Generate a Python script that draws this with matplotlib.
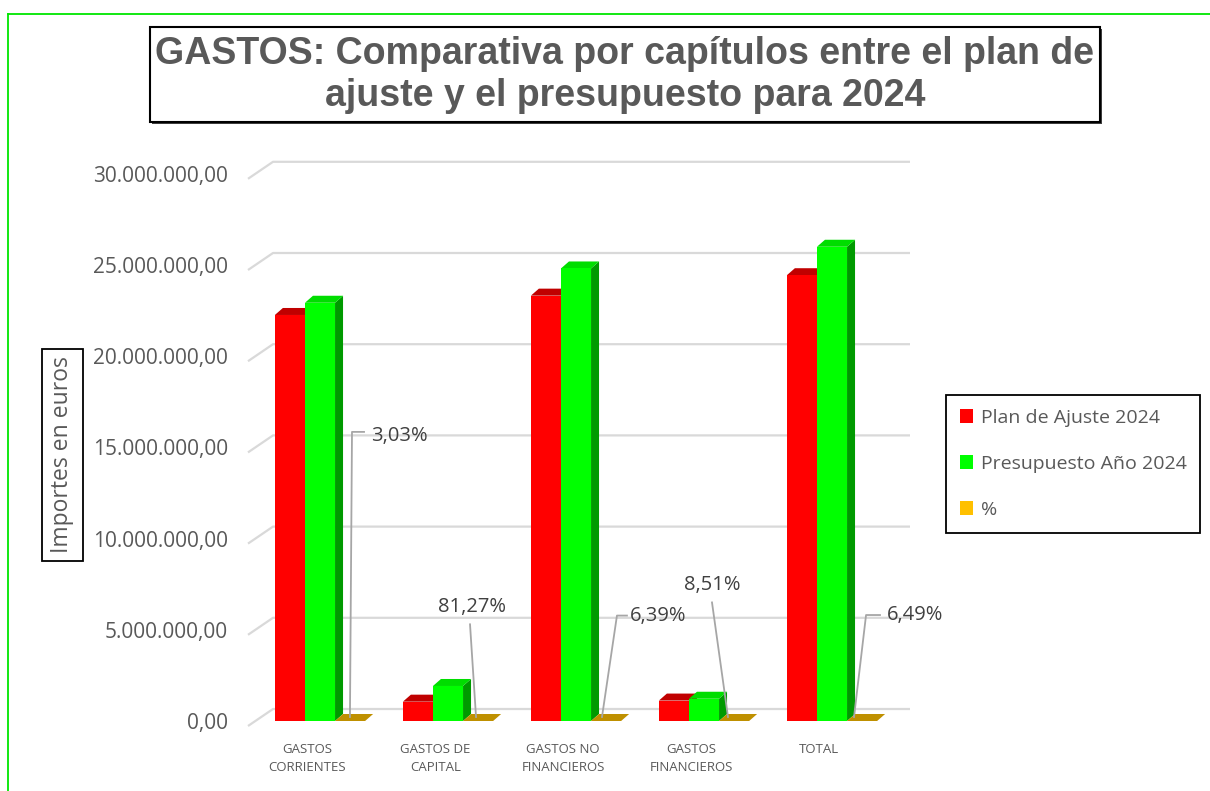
import numpy as np
import matplotlib
matplotlib.use("Agg")
import matplotlib.pyplot as plt
from matplotlib.patches import Patch, Polygon, Rectangle
from matplotlib.lines import Line2D
from matplotlib.transforms import ScaledTranslation

# data
categorias = ["GASTOS\nCORRIENTES", "GASTOS DE\nCAPITAL", "GASTOS NO\nFINANCIEROS",
              "GASTOS\nFINANCIEROS", "TOTAL"]
plan_ajuste = [22.26e6, 1.06e6, 23.32e6, 1.12e6, 24.44e6]
presupuesto = [22.93e6, 1.92e6, 24.81e6, 1.22e6, 26.00e6]
porcentaje = [3.03, 81.27, 6.39, 8.51, 6.49]
series = ["Plan de Ajuste 2024", "Presupuesto Año 2024", "%"]
yticks = [0, 5e6, 10e6, 15e6, 20e6, 25e6, 30e6]

GREY = "#595959"
FONT = "Open Sans"

# pixel geometry helpers (figure is 1210x791 at dpi 100)
PX_X = 128.0          # px per category
PX_Y = 18.24 / 1e6    # px per euro
def dx(px):
    return px / PX_X
def dy(px):
    return px / PX_Y

fig = plt.figure(figsize=(12.1, 7.91), dpi=100)
x_lo, x_hi = -0.6, 4.7
y_lo, y_hi = -0.5e6, 31e6
left_px = 320 + PX_X * x_lo
right_px = 320 + PX_X * x_hi
bot_px = 721 - y_lo * PX_Y
top_px = 721 - y_hi * PX_Y
ax = fig.add_axes([left_px / 1210, (791 - bot_px) / 791,
                   (right_px - left_px) / 1210, (bot_px - top_px) / 791])
ax.set_xlim(x_lo, x_hi)
ax.set_ylim(y_lo, y_hi)
for s in ax.spines.values():
    s.set_visible(False)

# 3d-ish gridlines: back wall + floor diagonal
for v in yticks:
    ax.plot([dx(248 - 320), dx(273 - 320), dx(910 - 320)],
            [v - dy(5), v + dy(12), v + dy(12)],
            color="#D9D9D9", lw=1.6, zorder=1, solid_capstyle="butt")

x = np.arange(len(categorias))
w = 0.235
ddx, ddy = dx(8), dy(7)

def bar3d(xc, h, front, top, side, z):
    x0, x1 = xc - w / 2, xc + w / 2
    ax.add_patch(Polygon([(x1, 0), (x1, h), (x1 + ddx, h + ddy), (x1 + ddx, ddy)],
                         closed=True, fc=side, ec="none", zorder=z))
    ax.add_patch(Polygon([(x0, h), (x1, h), (x1 + ddx, h + ddy), (x0 + ddx, h + ddy)],
                         closed=True, fc=top, ec="none", zorder=z))
    ax.bar(xc, h, width=w, color=front, linewidth=0, zorder=z + 0.5)

for i in x:
    bar3d(i - w, plan_ajuste[i], "#FF0000", "#C00000", "#B00000", 3 + i * 0.01)
    bar3d(i, presupuesto[i], "#00FF00", "#00DD00", "#009A00", 4 + i * 0.01)
    bar3d(i + w, porcentaje[i], "#FFC000", "#BF9000", "#A67C00", 5 + i * 0.01)

# percentage labels with leader lines
lead = "#A6A6A6"
label_layout = [
    # (line xs rel, line ys, text x rel, text y, ha)
    ([0.234, 0.25, 0.344], [0.22e6, 15.85e6, 15.85e6], 0.40, 15.6e6, "left"),
    ([0.219, 0.172], [0.22e6, 5.3e6], 0.19, 6.25e6, "center"),
    ([0.203, 0.32, 0.398], [0.22e6, 5.78e6, 5.78e6], 0.42, 5.78e6, "left"),
    ([0.1875, 0.0625], [0.22e6, 6.5e6], 0.0625, 7.45e6, "center"),
    ([0.172, 0.266, 0.375], [0.22e6, 5.81e6, 5.81e6], 0.43, 5.81e6, "left"),
]
for i, (lx, ly, tx, ty, ha) in enumerate(label_layout):
    ax.plot([i + v for v in lx], ly, color=lead, lw=1.3, zorder=6)
    ax.text(i + tx, ty, f"{porcentaje[i]:.2f}%".replace(".", ","), ha=ha, va="center",
            fontsize=14.5, color="#404040", family=FONT, zorder=7)

# axes ticks
ax.set_yticks(yticks)
ax.set_yticklabels([f"{v:,.2f}".replace(",", "X").replace(".", ",").replace("X", ".")
                    for v in yticks], fontsize=15, color=GREY, family=FONT)
shift = ScaledTranslation(0, -0.05, fig.dpi_scale_trans)
for lab in ax.get_yticklabels():
    lab.set_transform(lab.get_transform() + shift)
ax.set_xticks(x - 0.1)
ax.set_xticklabels(categorias, fontsize=9.5, color=GREY, family=FONT, linespacing=1.55)
ax.tick_params(axis="y", length=0, pad=11)
ax.tick_params(axis="x", length=0, pad=9)

# y axis title in a box
fig.text(62.5 / 1210, 1 - 455 / 791, "Importes en euros", rotation=90, ha="center", va="center",
         fontsize=16.5, color=GREY, family=FONT,
         bbox=dict(boxstyle="square,pad=0.35", fc="white", ec="black", lw=1.3))

# title box
fig.add_artist(Rectangle((152 / 1210, 1 - 124 / 791), 950 / 1210, 95 / 791,
                         transform=fig.transFigure, fc="#404040", ec="none"))
fig.add_artist(Rectangle((150 / 1210, 1 - 122 / 791), 950 / 1210, 95 / 791,
                         transform=fig.transFigure, fc="white", ec="black", lw=1.5))
fig.text(625 / 1210, 1 - 75 / 791,
         "GASTOS: Comparativa por capítulos entre el plan de\najuste y el presupuesto para 2024",
         ha="center", va="center", fontsize=27, fontweight="bold", color=GREY,
         family="Liberation Sans", linespacing=1.22)

# legend
handles = [Patch(fc="#FF0000"), Patch(fc="#00FF00"), Patch(fc="#FFC000")]
leg = fig.legend(handles, series, loc="upper left", bbox_to_anchor=(946 / 1210, 1 - 395 / 791),
                 borderaxespad=0, fancybox=False, edgecolor="black", framealpha=1,
                 handlelength=0.7, handleheight=0.7, handletextpad=0.4, labelspacing=1.45,
                 borderpad=0.7, prop=dict(family=FONT, size=14))
leg.get_frame().set_linewidth(1.3)
for t in leg.get_texts():
    t.set_color(GREY)

# green outer frame (top and left edges only)
fig.add_artist(Line2D([8 / 1210, 1], [1 - 14 / 791, 1 - 14 / 791], color="#00E600", lw=1.3))
fig.add_artist(Line2D([8 / 1210, 8 / 1210], [0, 1 - 14 / 791], color="#00E600", lw=1.3))

fig.savefig("out.png", dpi=100)
